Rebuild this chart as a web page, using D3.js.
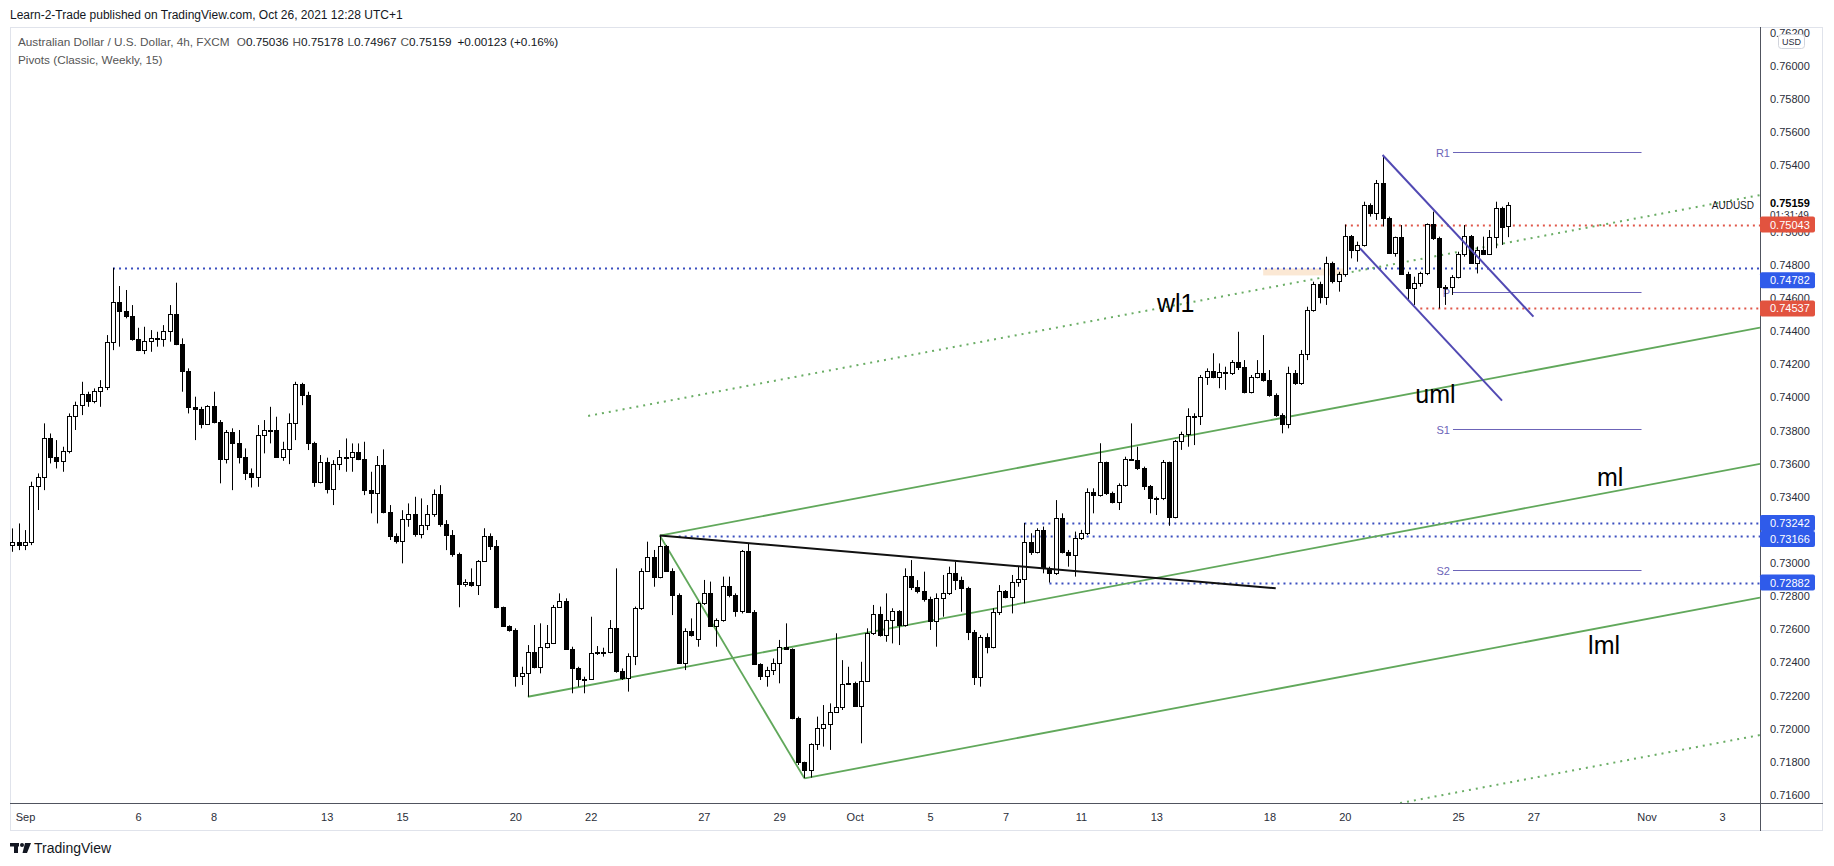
<!DOCTYPE html>
<html><head><meta charset="utf-8">
<script src="https://cdn.jsdelivr.net/npm/d3@7"></script>
<style>
body{margin:0;background:#fff}
svg{display:block}
text{font-family:"Liberation Sans",Arial,sans-serif}
</style>
</head><body>
<svg id="c" width="1834" height="866"></svg>
<script>
// ---------- DATA (AUDUSD 4h, FXCM) ----------
const opens=[
.73106,.73126,.73110,.73126,.73464,.73521,.73752,.73638,.73613,.73674,
.73887,.73951,.74018,.73980,.74036,.74060,.74332,.74573,.74523,.74493,
.74352,.74285,.74338,.74356,.74350,.74400,.74501,.74322,.74161,.73943,
.73927,.73837,.73947,.73853,.73625,.73788,.73722,.73638,.73541,.73521,
.73772,.73801,.73800,.73642,.73686,.73843,.74078,.74014,.73722,.73487,
.73607,.73448,.73597,.73642,.73640,.73672,.73625,.73440,.73420,.73591,
.73310,.73163,.73133,.73263,.73294,.73175,.73227,.73294,.73418,.73235,
.73169,.73054,.72873,.72888,.72867,.73014,.73165,.73103,.72733,.72620,
.72596,.72320,.72338,.72465,.72374,.72491,.72519,.72737,.72773,.72483,
.72368,.72300,.72298,.72455,.72463,.72465,.72606,.72350,.72304,.72439,
.72731,.72954,.73034,.72914,.73103,.72954,.72807,.72395,.72590,.72540,
.72757,.72817,.72620,.72656,.72861,.72807,.72710,.73075,.72702,.72391,
.72320,.72354,.72395,.72495,.72479,.72063,.71797,.71751,.71906,.72006,
.72029,.72099,.72129,.72270,.72274,.72137,.72290,.72576,.72692,.72566,
.72656,.72712,.72626,.72922,.72853,.72833,.72783,.72652,.72787,.72817,
.72938,.72897,.72847,.72586,.72314,.72556,.72491,.72706,.72831,.72793,
.72887,.72902,.73125,.73065,.73200,.72968,.72942,.73270,.73065,.73049,
.73149,.73180,.73427,.73411,.73608,.73421,.73370,.73471,.73626,.73624,
.73576,.73467,.73391,.73390,.73608,.73280,.73739,.73777,.73888,.73886,
.74121,.74161,.74121,.74151,.74149,.74215,.74181,.74034,.74121,.74145,
.74105,.74014,.73893,.73839,.74145,.74085,.74262,.74527,.74684,.74608,
.74809,.74704,.74744,.74974,.74890,.74920,.75161,.75111,.75292,.75081,
.74874,.74966,.74744,.74662,.74688,.74752,.75044,.74960,.74668,.74666,
.74728,.74863,.74974,.74813,.74890,.74865,.74966,.75145,.75036];
const highs=[
.73209,.73239,.73199,.73491,.73541,.73843,.73782,.73742,.73702,.73903,
.73974,.74094,.74034,.74054,.74104,.74376,.74782,.74672,.74648,.74557,
.74420,.74426,.74406,.74396,.74436,.74557,.74692,.74356,.74175,.74004,
.73943,.73953,.74034,.73863,.73803,.73813,.73803,.73692,.73571,.73833,
.73863,.73943,.73883,.73732,.73903,.74094,.74088,.74034,.73732,.73652,
.73636,.73621,.73682,.73752,.73722,.73722,.73732,.73551,.73646,.73686,
.73350,.73179,.73319,.73360,.73400,.73390,.73350,.73444,.73470,.73259,
.73199,.73063,.72902,.72968,.73018,.73210,.73179,.73139,.72737,.72624,
.72606,.72374,.72505,.72626,.72636,.72626,.72747,.72817,.72787,.72495,
.72374,.72314,.72676,.72499,.72489,.72656,.72968,.72364,.72455,.72737,
.72968,.73129,.73079,.73166,.73109,.72968,.72817,.72606,.72666,.72767,
.72898,.72888,.72666,.72918,.72918,.72817,.73079,.73119,.72716,.72395,
.72374,.72424,.72536,.72636,.72485,.72073,.71801,.71912,.72073,.72143,
.72153,.72576,.72414,.72374,.72284,.72404,.72606,.72747,.72737,.72817,
.72727,.72716,.72968,.73018,.72897,.72948,.72797,.72817,.72928,.72978,
.73008,.72918,.72857,.72596,.72566,.72576,.72727,.72867,.72837,.72928,
.72978,.73242,.73180,.73210,.73220,.72978,.73380,.73300,.73079,.73190,
.73200,.73451,.73451,.73723,.73612,.73431,.73481,.73642,.73843,.73702,
.73582,.73471,.73401,.73622,.73612,.73743,.73793,.73934,.73904,.74135,
.74175,.74266,.74205,.74185,.74225,.74396,.74225,.74135,.74225,.74376,
.74165,.74024,.73904,.74185,.74165,.74286,.74547,.74698,.74698,.74849,
.74819,.74758,.75043,.74980,.74940,.75181,.75171,.75312,.75463,.75091,
.74970,.75040,.74758,.74728,.74758,.75050,.75121,.74970,.74678,.74738,
.74879,.75040,.74980,.74910,.74970,.75010,.75181,.75151,.75178];
const lows=[
.73068,.73078,.73078,.73108,.73320,.73440,.73601,.73571,.73551,.73662,
.73803,.73893,.73943,.73964,.73943,.74044,.74285,.74306,.74477,.74342,
.74279,.74261,.74275,.74306,.74306,.74336,.74315,.74034,.73903,.73742,
.73813,.73833,.73843,.73481,.73601,.73440,.73601,.73501,.73456,.73460,
.73662,.73722,.73638,.73617,.73597,.73742,.73953,.73682,.73460,.73481,
.73420,.73350,.73561,.73551,.73551,.73621,.73410,.73300,.73239,.73300,
.73139,.73118,.72998,.73219,.73159,.73149,.73199,.73279,.73219,.73078,
.73038,.72733,.72857,.72857,.72807,.73008,.73079,.72727,.72616,.72586,
.72254,.72264,.72193,.72364,.72334,.72485,.72511,.72733,.72479,.72214,
.72254,.72214,.72294,.72445,.72435,.72455,.72338,.72294,.72224,.72384,
.72717,.72948,.72857,.72908,.72948,.72686,.72391,.72354,.72556,.72495,
.72747,.72616,.72495,.72646,.72793,.72676,.72696,.72700,.72385,.72294,
.72254,.72324,.72274,.72475,.72057,.71781,.71701,.71705,.71872,.71892,
.71872,.72095,.72113,.72264,.72133,.71912,.72284,.72566,.72556,.72525,
.72515,.72505,.72616,.72837,.72817,.72767,.72596,.72495,.72676,.72807,
.72837,.72706,.72535,.72264,.72254,.72455,.72485,.72686,.72787,.72696,
.72857,.72757,.73049,.73058,.72938,.72882,.72928,.73058,.72978,.72918,
.73139,.73169,.73300,.73401,.73411,.73360,.73320,.73461,.73622,.73562,
.73441,.73300,.73290,.73380,.73225,.73270,.73683,.73702,.73712,.73833,
.74075,.74115,.74055,.74045,.74135,.74165,.74024,.74024,.74115,.74095,
.74004,.73883,.73783,.73813,.74075,.74075,.74225,.74517,.74567,.74558,
.74688,.74638,.74728,.74839,.74819,.74910,.75091,.75071,.75031,.74870,
.74849,.74740,.74588,.74558,.74668,.74738,.74950,.74537,.74558,.74618,
.74718,.74849,.74809,.74748,.74859,.74859,.74900,.74920,.74967];
const closes=[
.73126,.73110,.73126,.73464,.73521,.73752,.73638,.73613,.73674,.73887,
.73951,.74018,.73980,.74036,.74060,.74332,.74573,.74523,.74493,.74352,
.74285,.74338,.74356,.74350,.74400,.74501,.74322,.74161,.73943,.73927,
.73837,.73947,.73853,.73625,.73788,.73722,.73638,.73541,.73521,.73772,
.73801,.73800,.73642,.73686,.73843,.74078,.74014,.73722,.73487,.73607,
.73448,.73597,.73642,.73640,.73672,.73625,.73440,.73420,.73591,.73310,
.73163,.73133,.73263,.73294,.73175,.73227,.73294,.73418,.73235,.73169,
.73054,.72873,.72888,.72867,.73014,.73165,.73103,.72733,.72620,.72596,
.72320,.72338,.72465,.72374,.72491,.72519,.72737,.72773,.72483,.72368,
.72300,.72298,.72455,.72463,.72465,.72606,.72350,.72304,.72439,.72731,
.72954,.73034,.72914,.73103,.72954,.72807,.72395,.72590,.72566,.72757,
.72817,.72620,.72656,.72861,.72807,.72710,.73075,.72702,.72391,.72320,
.72354,.72395,.72495,.72479,.72063,.71797,.71751,.71906,.72006,.72029,
.72099,.72129,.72270,.72274,.72137,.72290,.72576,.72692,.72566,.72656,
.72712,.72626,.72922,.72853,.72833,.72783,.72652,.72787,.72817,.72938,
.72897,.72847,.72586,.72314,.72556,.72491,.72706,.72831,.72793,.72887,
.72902,.73125,.73065,.73200,.72968,.72942,.73270,.73065,.73049,.73149,
.73180,.73427,.73411,.73608,.73421,.73370,.73471,.73626,.73624,.73576,
.73467,.73391,.73390,.73608,.73280,.73739,.73777,.73888,.73886,.74121,
.74161,.74121,.74151,.74149,.74215,.74181,.74034,.74121,.74145,.74105,
.74014,.73893,.73839,.74145,.74085,.74262,.74527,.74684,.74608,.74809,
.74704,.74744,.74974,.74890,.74920,.75161,.75111,.75292,.75081,.74874,
.74966,.74744,.74662,.74688,.74752,.75044,.74960,.74668,.74666,.74728,
.74863,.74974,.74813,.74890,.74865,.74966,.75145,.75031,.75159];

// x-axis day labels: trading-day index (Sep 1 = 0), 6 bars per day, first bar of Sep 1 = bar 2
const dayLabels=["Sep","6","8","13","15","20","22","27","29","Oct","5","7","11","13","18","20","25","27","Nov","3"];
const dayIndex =[0,3,5,8,10,13,15,18,20,22,24,26,28,30,33,35,38,40,43,45];
const yTicks=[0.716,0.718,0.720,0.722,0.724,0.726,0.728,0.730,0.732,0.734,0.736,0.738,0.740,
              0.742,0.744,0.746,0.748,0.750,0.752,0.754,0.756,0.758,0.760,0.762];

// horizontal levels: [price, start bar, kind]
const levelPrices=[0.74782,0.75043,0.74537,0.73242,0.73166,0.72882];
const levelStart =[16,212,224,161,106,165];
const levelKind  =["blue","red","red","blue","blue","blue"];

// pitchfork (solid green): [bar, price] pairs
const forkUML=[[103,0.73166],[278.05,0.74421]];
const forkML =[[82,0.72193],[278.05,0.73599]];
const forkLML=[[126,0.71701],[278.05,0.72791]];
const forkAC =[[103,0.73166],[126,0.71701]];
// warning lines (dotted green)
const warnWL1=[[91.6,0.73888],[278.05,0.75221]];
const warnLow=[[200,0.71402],[278.05,0.71962]];
// black trend line
const trendBlack=[[103,0.73166],[201,0.72848]];
// descending purple channel
const chanUpper=[[218,0.75463],[242,0.74487]];
const chanLower=[[214.4,0.74900],[237,0.73980]];
// weekly classic pivots
const pivotNames=["R1","P","S1","S2"];
const pivotValues=[0.75481,0.74634,0.73807,0.72960];
const pivotFrom=229.2, pivotTo=259.2;
// text annotations [label, bar, price]
const notes=[["wl1",182.1,0.74515],["uml",223.2,0.73968],["ml",252.1,0.73465],["lml",250.7,0.72450]];
// beige zone
const zone={from:199,to:212,top:0.74778,bottom:0.74736};

// ---------- SCALES ----------
const svg=d3.select("#c");
const X0=10,X1=1760,Y0=27,Y1=803;
const x=d3.scaleLinear().domain([-0.39,278.05]).range([X0,X1]);
const y=d3.scaleLinear().domain([0.715517,0.762414]).range([803,26]);

const COL={blue:"#3b4fbf",red:"#e0574a",green:"#61a85b",purple:"#5149b3",pivot:"#6c64b8",text:"#131722"};

svg.append("rect").attr("width",1834).attr("height",866).attr("fill","#fff");
svg.append("defs").append("clipPath").attr("id","plot").append("rect")
  .attr("x",X0).attr("y",Y0).attr("width",X1-X0).attr("height",Y1-Y0);

// panel frame
svg.append("rect").attr("x",10.5).attr("y",27.5).attr("width",1812).attr("height",803)
  .attr("fill","none").attr("stroke","#e0e3eb");

const plot=svg.append("g").attr("clip-path","url(#plot)");
const ln=d3.line().x(d=>x(d[0])).y(d=>y(d[1]));

// zone
plot.append("rect").attr("x",x(zone.from)).attr("width",x(zone.to)-x(zone.from))
  .attr("y",y(zone.top)).attr("height",y(zone.bottom)-y(zone.top)).attr("fill","#fbe6cf").attr("opacity",0.9);

// dotted horizontal levels
levelPrices.forEach((p,i)=>{
  plot.append("line").attr("x1",x(levelStart[i])).attr("x2",X1)
    .attr("y1",Math.round(y(p))+0.5).attr("y2",Math.round(y(p))+0.5)
    .attr("stroke",COL[levelKind[i]]).attr("stroke-width",2).attr("stroke-dasharray","2,4");
});

// warning dotted green lines
[warnWL1,warnLow].forEach(pts=>plot.append("path").attr("d",ln(pts)).attr("fill","none")
  .attr("stroke","#6aad65").attr("stroke-width",2).attr("stroke-dasharray","2,5"));

// pitchfork
[forkUML,forkML,forkLML,forkAC].forEach(pts=>plot.append("path").attr("d",ln(pts)).attr("fill","none")
  .attr("stroke",COL.green).attr("stroke-width",1.8));

// pivots
pivotValues.forEach((v,i)=>{
  const yy=Math.round(y(v))+0.5;
  plot.append("line").attr("x1",x(pivotFrom)).attr("x2",x(pivotTo)).attr("y1",yy).attr("y2",yy)
    .attr("stroke",COL.pivot).attr("stroke-width",1);
  plot.append("text").attr("x",x(pivotFrom)-3).attr("y",yy+4).attr("text-anchor","end")
    .attr("font-size",11).attr("fill",COL.pivot).text(pivotNames[i]);
});

// candles
const bars=d3.range(opens.length).map(i=>({i,o:opens[i],h:highs[i],l:lows[i],c:closes[i]}));
const cg=plot.append("g");
cg.selectAll("line.w").data(bars).join("line").attr("class","w")
  .attr("x1",d=>Math.round(x(d.i))+0.5).attr("x2",d=>Math.round(x(d.i))+0.5)
  .attr("y1",d=>y(d.h)).attr("y2",d=>y(d.l)).attr("stroke","#000").attr("stroke-width",1);
cg.selectAll("rect.b").data(bars).join("rect").attr("class","b")
  .attr("x",d=>Math.round(x(d.i))-1.5).attr("width",4)
  .attr("y",d=>Math.round(y(Math.max(d.o,d.c)))+0.5)
  .attr("height",d=>Math.max(1,Math.round(y(Math.min(d.o,d.c)))-Math.round(y(Math.max(d.o,d.c)))))
  .attr("fill",d=>d.c>=d.o?"#fff":"#000").attr("stroke","#000").attr("stroke-width",1);

// black trendline & purple channel (on top of candles)
plot.append("path").attr("d",ln(trendBlack)).attr("fill","none").attr("stroke","#111").attr("stroke-width",2);
[chanUpper,chanLower].forEach(pts=>plot.append("path").attr("d",ln(pts)).attr("fill","none")
  .attr("stroke",COL.purple).attr("stroke-width",2));

// notes
notes.forEach(n=>plot.append("text").attr("x",x(n[1])).attr("y",y(n[2]))
  .attr("font-family","Lato, 'Open Sans', sans-serif").attr("font-size",25).attr("fill","#000").text(n[0]));

// AUDUSD series label
plot.append("text").attr("x",1754).attr("y",209).attr("text-anchor","end").attr("font-size",10)
  .attr("fill",COL.text).text("AUDUSD");

// ---------- AXES ----------
// positions of price boxes on the axis (tick labels underneath them are hidden, as on the reference)
const boxShift=[12.5,0,0,0,3.5,0];
const boxCentres=levelPrices.map((p,i)=>y(p)+boxShift[i]);
const lastPriceY=y(closes[closes.length-1]);
const hiddenTick=v=>boxCentres.some(c=>Math.abs(c-y(v))<7) || Math.abs(lastPriceY-y(v))<8;

const ya=svg.append("g").attr("transform",`translate(${X1},0)`)
  .call(d3.axisRight(y).tickValues(yTicks.filter(v=>!hiddenTick(v))).tickFormat(d3.format(".5f")).tickSize(0).tickPadding(10));
ya.select(".domain").remove();
ya.selectAll("text").attr("font-size",11).attr("fill","#2a2e39").attr("font-family","'Liberation Sans',Arial,sans-serif");

const xa=svg.append("g").attr("transform",`translate(0,${Y1})`)
  .call(d3.axisBottom(x).tickValues(dayIndex.map(d=>2+6*d)).tickFormat((v,i)=>dayLabels[i]).tickSize(0).tickPadding(10));
xa.select(".domain").remove();
xa.selectAll("text").attr("font-size",11).attr("fill","#2a2e39").attr("font-family","'Liberation Sans',Arial,sans-serif");

// axis lines
svg.append("line").attr("x1",X1+0.5).attr("x2",X1+0.5).attr("y1",27).attr("y2",831).attr("stroke","#50535e");
svg.append("line").attr("x1",10).attr("x2",1823).attr("y1",803.5).attr("y2",803.5).attr("stroke","#50535e");

// current price label
svg.append("rect").attr("x",1761).attr("y",196).attr("width",60).attr("height",28).attr("fill","#fff");
svg.append("text").attr("x",1770).attr("y",207).attr("font-size",11).attr("font-weight","bold").attr("fill","#000")
  .text(d3.format(".5f")(closes[closes.length-1]));
svg.append("text").attr("x",1770).attr("y",218.5).attr("font-size",10).attr("fill","#2a2e39").text("01:31:49");

// level boxes on axis
levelPrices.forEach((p,i)=>{
  const cy=boxCentres[i];
  svg.append("rect").attr("x",1760).attr("y",cy-8).attr("width",55).attr("height",16).attr("rx",2)
    .attr("fill",levelKind[i]==="red"?"#e2533f":"#2f5bea");
  svg.append("text").attr("x",1770).attr("y",cy+4).attr("font-size",11).attr("fill","#fff").text(d3.format(".5f")(p));
});

// USD box
svg.append("rect").attr("x",1778.5).attr("y",34.5).attr("width",26).attr("height",14).attr("rx",3)
  .attr("fill","#fff").attr("stroke","#d1d4dc");
svg.append("text").attr("x",1791.5).attr("y",45).attr("text-anchor","middle").attr("font-size",9).attr("fill","#2a2e39").text("USD");

// ---------- HEADER ----------
svg.append("text").attr("x",10).attr("y",19).attr("font-size",12).attr("fill",COL.text)
  .text("Learn-2-Trade published on TradingView.com, Oct 26, 2021 12:28 UTC+1");
const h2=svg.append("text").attr("x",18).attr("y",46).attr("font-size",11.75).attr("fill","#555");
h2.append("tspan").text("Australian Dollar / U.S. Dollar, 4h, FXCM  ");
[["O",opens],["H",highs],["L",lows],["C",closes]].forEach(([k,a])=>{
  h2.append("tspan").attr("dx",4).text(k);
  h2.append("tspan").attr("fill","#131722").text(d3.format(".5f")(a[a.length-1]));
});
h2.append("tspan").attr("dx",6).attr("fill","#131722").text("+0.00123 (+0.16%)");
svg.append("text").attr("x",18).attr("y",64).attr("font-size",11.75).attr("fill","#555").text("Pivots (Classic, Weekly, 15)");

// TradingView logo
const lg=svg.append("g").attr("fill","#131722");
lg.append("rect").attr("x",10).attr("y",843).attr("width",9).attr("height",3.5);
lg.append("rect").attr("x",14).attr("y",843).attr("width",4).attr("height",10);
lg.append("circle").attr("cx",22).attr("cy",845).attr("r",2);
lg.append("path").attr("d","M25,843 L31,843 L27,853 L22.5,853 Z");
svg.append("text").attr("x",34).attr("y",853).attr("font-size",14).attr("fill",COL.text).text("TradingView");
</script>
</body></html>
